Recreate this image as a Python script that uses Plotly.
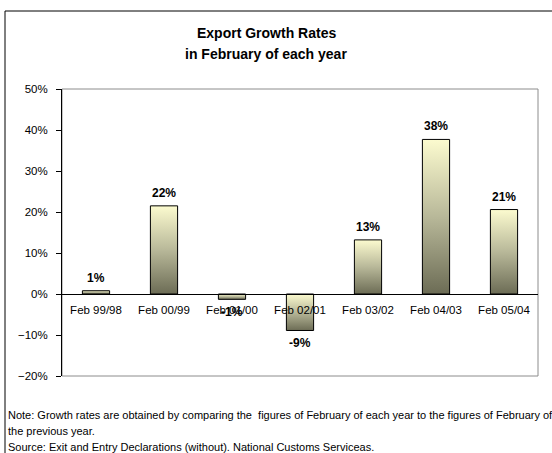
import plotly.graph_objects as go

# Export growth, February vs February of the previous year (percent)
categories = ["Feb 99/98", "Feb 00/99", "Feb 01/00", "Feb 02/01",
              "Feb 03/02", "Feb 04/03", "Feb 05/04"]
growth_pct = [0.8, 21.5, -1.3, -8.9, 13.2, 37.7, 20.6]

title_lines = ["Export Growth Rates", "in February of each year"]
note_lines = [
    "Note: Growth rates are obtained by comparing the  figures of February of each year to the figures of February of",
    "the previous year.",
    "Source: Exit and Entry Declarations (without). National Customs Serviceas.",
]

W, H = 552, 453
L, R, T, B = 62, 14, 89, 77
PW, PH = W - L - R, H - T - B

def px_x(p):
    return (p - L) / PW

def px_y(p):
    return (H - B - p) / PH

FONT = "Liberation Sans, Arial, sans-serif"
Y_MIN, Y_MAX = -0.2, 0.5
HALF = 0.2  # half bar width in category units
zero_pos = (0 - Y_MIN) / (Y_MAX - Y_MIN)

fig = go.Figure()

# each bar is a filled polygon so it can carry a vertical gradient
for i, v in enumerate(growth_pct):
    f = v / 100
    fig.add_trace(go.Scatter(
        x=[i - HALF, i - HALF, i + HALF, i + HALF, i - HALF],
        y=[0, f, f, 0, 0],
        mode="lines",
        fill="toself",
        line=dict(color="#000000", width=1),
        fillgradient=dict(
            type="vertical",
            colorscale=[[0, "#6c6c55"], [0.5, "#b8b899"], [1, "#fcfbcf"]],
        ),
        hoverinfo="skip",
        showlegend=False,
    ))

# value labels
for i, v in enumerate(growth_pct):
    fig.add_annotation(
        x=i, y=v / 100, xref="x", yref="y",
        text=f"<b>{v:.0f}%</b>", showarrow=False,
        yshift=13 if v >= 0 else -13,
        font=dict(family=FONT, size=12, color="#000000"),
    )

fig.update_layout(
    width=W, height=H,
    margin=dict(l=L, r=R, t=T, b=B),
    paper_bgcolor="#ffffff",
    plot_bgcolor="#ffffff",
    font=dict(family=FONT, size=11.5, color="#000000"),
    showlegend=False,
    xaxis=dict(
        range=[-0.5, len(categories) - 0.5],
        tickmode="array",
        tickvals=list(range(len(categories))),
        ticktext=categories,
        ticks="",
        showgrid=False, zeroline=False,
        showline=True, linecolor="#000000", linewidth=1,
        anchor="free", position=zero_pos,
        ticklabelstandoff=5,
        tickfont=dict(family=FONT, size=11.5),
        fixedrange=True,
    ),
    xaxis2=dict(
        overlaying="x", matches="x",
        range=[-0.5, len(categories) - 0.5],
        tickmode="array",
        tickvals=[k + 0.5 for k in range(len(categories) - 1)],
        ticks="outside", ticklen=5, tickcolor="#000000",
        showticklabels=False, showgrid=False, zeroline=False,
        showline=False,
        anchor="free", position=zero_pos,
    ),
    yaxis=dict(
        range=[Y_MIN, Y_MAX],
        dtick=0.1, tick0=0,
        tickformat=".0%",
        ticks="outside", ticklen=5, tickcolor="#000000",
        showgrid=False, zeroline=False,
        showline=True, linecolor="#000000", linewidth=1,
        ticklabelstandoff=6,
        tickfont=dict(family=FONT, size=11.5),
        fixedrange=True,
    ),
)

# grey plot-area frame and black outer chart frame
fig.add_shape(type="rect", xref="paper", yref="paper", x0=0, y0=0, x1=1, y1=1,
              line=dict(color="#8c8c8c", width=1), layer="below")
fig.add_shape(type="rect", xref="paper", yref="paper",
              x0=px_x(5), y0=px_y(520), x1=px_x(620), y1=px_y(11),
              line=dict(color="#000000", width=1), layer="below")

for text, py in zip(title_lines, [33, 54]):
    fig.add_annotation(
        x=px_x(266), y=px_y(py), xref="paper", yref="paper",
        text=f"<b>{text}</b>", showarrow=False,
        xanchor="center", yanchor="middle",
        font=dict(family=FONT, size=14, color="#000000"),
    )

for text, py in zip(note_lines, [415, 431, 447]):
    fig.add_annotation(
        x=px_x(6), y=px_y(py), xref="paper", yref="paper",
        text=text, showarrow=False,
        xanchor="left", yanchor="middle",
        font=dict(family=FONT, size=11, color="#000000"),
    )

fig.write_html("out.html")
